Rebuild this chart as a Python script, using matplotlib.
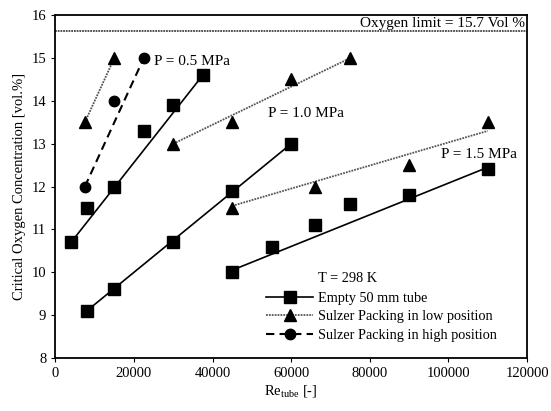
"""Critical oxygen concentration vs Re_tube."""

import matplotlib
matplotlib.use("Agg")
import matplotlib.pyplot as plt
from matplotlib.lines import Line2D

plt.rcParams["font.family"] = ["Liberation Serif", "DejaVu Serif"]
plt.rcParams["mathtext.fontset"] = "custom"
plt.rcParams["mathtext.rm"] = "Liberation Serif"
plt.rcParams["mathtext.it"] = "Liberation Serif"

# empty 50 mm tube (squares), three pressure groups
sq_x = [[4000, 8000, 15000, 22500, 30000, 37500],
        [8000, 15000, 30000, 45000, 60000],
        [45000, 55000, 66000, 75000, 90000, 110000]]
sq_y = [[10.7, 11.5, 12.0, 13.3, 13.9, 14.6],
        [9.1, 9.6, 10.7, 11.9, 13.0],
        [10.0, 10.6, 11.1, 11.6, 11.8, 12.4]]
sq_fit_x = [[4000, 37500], [8000, 60000], [45000, 110000]]
sq_fit_y = [[10.7, 14.6], [9.1, 13.0], [10.05, 12.45]]

# Sulzer packing, low position (triangles)
tri_x = [[7500, 15000],
         [30000, 45000, 60000, 75000],
         [45000, 66000, 90000, 110000]]
tri_y = [[13.5, 15.0],
         [13.0, 13.5, 14.5, 15.0],
         [11.5, 12.0, 12.5, 13.5]]
tri_fit_x = [[7500, 15000], [30000, 75000], [45000, 110000]]
tri_fit_y = [[13.5, 15.0], [13.0, 15.0], [11.55, 13.3]]

# Sulzer packing, high position (circles)
circ_x = [7500, 15000, 22500]
circ_y = [12.0, 14.0, 15.0]
circ_fit_x = [7500, 22500]
circ_fit_y = [12.0, 15.0]

OXYGEN_LIMIT = 15.62

P_LABELS = [(25000, 14.92, "P = 0.5 MPa"),
            (54000, 13.7, "P = 1.0 MPa"),
            (98000, 12.74, "P = 1.5 MPa")]


def draw() -> None:
    fig = plt.figure(figsize=(5.51, 4.11), dpi=100)
    ax = fig.add_axes([0.1005, 0.129, 0.856, 0.834])
    ax.set_xlim(0, 120000)
    ax.set_ylim(8, 16)
    ax.set_xticks(range(0, 120001, 20000))
    ax.set_yticks(range(8, 17))
    ax.tick_params(direction="out", length=3, labelsize=10.5, width=0.8)
    for s in ax.spines.values():
        s.set_linewidth(1.3)

    for fx, fy, x, y in zip(sq_fit_x, sq_fit_y, sq_x, sq_y):
        ax.plot(fx, fy, color="black", lw=1.2)
        ax.plot(x, y, "s", color="black", ms=8)
    for fx, fy, x, y in zip(tri_fit_x, tri_fit_y, tri_x, tri_y):
        ax.plot(fx, fy, color="#555555", lw=1.3, ls=(0, (1, 0.6)))
        ax.plot(x, y, "^", color="black", ms=8)
    ax.plot(circ_fit_x, circ_fit_y, color="black", lw=1.5, ls=(0, (4, 2.5)))
    ax.plot(circ_x, circ_y, "o", color="black", ms=7.5)

    ax.axhline(OXYGEN_LIMIT, color="#444444", lw=1.3, ls=(0, (1, 0.5)))
    ax.text(119500, 15.8, "Oxygen limit = 15.7 Vol %", ha="right",
            va="center", fontsize=11)

    for x, y, s in P_LABELS:
        ax.text(x, y, s, ha="left", va="center", fontsize=11)

    handles = [
        Line2D([], [], color="black", lw=1.2, marker="s", ms=8),
        Line2D([], [], color="#555555", lw=1.3, ls=(0, (1, 0.6)),
               marker="^", ms=8, mfc="black", mec="black"),
        Line2D([], [], color="black", lw=1.5, ls=(0, (4, 2.5)),
               marker="o", ms=7.5),
    ]
    labels = ["Empty 50 mm tube", "Sulzer Packing in low position",
              "Sulzer Packing in high position"]
    ax.legend(handles, labels, loc="upper left", bbox_to_anchor=(0.435, 0.21),
              frameon=False, fontsize=10.3, handlelength=3.3,
              handletextpad=0.3, labelspacing=0.39, borderaxespad=0)
    ax.text(0.557, 0.233, "T = 298 K", transform=ax.transAxes,
            ha="left", va="center", fontsize=10.3)

    ax.set_xlabel("Re$_{\\mathrm{tube}}$ [-]", fontsize=10.5, labelpad=2)
    ax.set_ylabel("Critical Oxygen Concentration [vol.%]", fontsize=10.5,
                  labelpad=4)

    fig.savefig("out.png", dpi=100)


if __name__ == "__main__":
    draw()
